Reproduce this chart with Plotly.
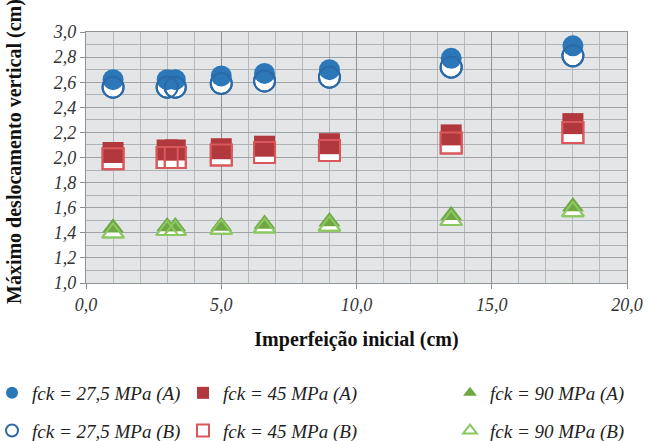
import plotly.graph_objects as go

# Initial imperfection (cm)
imperfeicao = [1.0, 3.0, 3.3, 5.0, 6.6, 9.0, 13.5, 18.0]

# Maximum vertical displacement (cm) per concrete strength and model
fck27_A = [2.62, 2.62, 2.62, 2.65, 2.67, 2.70, 2.79, 2.89]
fck27_B = [2.56, 2.56, 2.56, 2.59, 2.61, 2.64, 2.72, 2.81]
fck45_A = [2.04, 2.06, 2.06, 2.07, 2.09, 2.11, 2.18, 2.27]
fck45_B = [1.99, 2.00, 2.00, 2.02, 2.04, 2.055, 2.115, 2.20]
fck90_A = [1.44, 1.45, 1.45, 1.455, 1.47, 1.49, 1.54, 1.61]
fck90_B = [1.40, 1.42, 1.42, 1.43, 1.44, 1.455, 1.50, 1.57]

nomes_A = ["fck = 27,5 MPa (A)", "fck = 45 MPa (A)", "fck = 90 MPa (A)"]
nomes_B = ["fck = 27,5 MPa (B)", "fck = 45 MPa (B)", "fck = 90 MPa (B)"]

series = [
    # values A, values B, symbol, fill colour, outline colour for B, size, legend
    (fck27_A, fck27_B, "circle", "#2b77b7", "#2b6aa6", 21, "legend"),
    (fck45_A, fck45_B, "square", "#b1393d", "#d9585b", 21, "legend2"),
    (fck90_A, fck90_B, "triangle-up", "#6fa843", "#8cc862", 19, "legend3"),
]

fig = go.Figure()
for i, (ya, yb, sym, cfill, cline, size, leg) in enumerate(series):
    # hollow markers with white interior underneath
    fig.add_trace(go.Scatter(
        x=imperfeicao, y=yb, mode="markers", name=nomes_B[i],
        legend=leg, legendgroup=nomes_B[i], legendrank=2,
        marker=dict(symbol=sym, size=size, color="white",
                    line=dict(color=cline, width=2)),
    ))
    # filled markers
    fig.add_trace(go.Scatter(
        x=imperfeicao, y=ya, mode="markers", name=nomes_A[i],
        legend=leg, legendgroup=nomes_A[i], legendrank=1,
        marker=dict(symbol=sym, size=size, color=cfill,
                    line=dict(color=cfill, width=0)),
    ))
    # hollow outlines repeated on top
    fig.add_trace(go.Scatter(
        x=imperfeicao, y=yb, mode="markers", showlegend=False,
        marker=dict(symbol=sym + "-open", size=size, color=cline,
                    line=dict(color=cline, width=2)),
        hoverinfo="skip",
    ))

tick_font = dict(family="Liberation Serif", size=18, color="#333333", style="italic")
title_font = dict(family="Liberation Serif", size=20, color="#111111", weight="bold")
leg_font = dict(family="Liberation Serif", size=19, color="#222222", style="italic")

# plot area in pixels: x 86..627, y 32..283
PW, PH = 541, 251


def px_x(px):
    return (px - 86) / PW


def px_y(py):
    return (283 - py) / PH


legend_common = dict(
    xref="paper", yref="paper", xanchor="left", yanchor="top",
    y=px_y(374), orientation="v", font=leg_font, bgcolor="rgba(0,0,0,0)",
    itemsizing="constant", itemwidth=30, tracegroupgap=10,
)

fig.update_layout(
    width=650, height=441,
    margin=dict(l=86, r=23, t=32, b=158, autoexpand=False),
    paper_bgcolor="white",
    plot_bgcolor="#e3e5e7",
    separators=",.",
    legend=dict(x=px_x(-8), **legend_common),
    legend2=dict(x=px_x(183), **legend_common),
    legend3=dict(x=px_x(450), **legend_common),
    xaxis=dict(
        range=[0, 20], tickvals=[0, 5, 10, 15, 20], tickformat=".1f",
        tickfont=tick_font, ticks="outside", ticklen=5, tickcolor="#8a8f93",
        showgrid=True, gridcolor="#8e9397", gridwidth=1.3,
        minor=dict(dtick=1, showgrid=True, gridcolor="#b4b9bc", gridwidth=1),
        showline=True, linecolor="#8e9397", linewidth=1.3, mirror=True,
        zeroline=False,
        title=dict(text="Imperfeição inicial (cm)", font=title_font, standoff=18),
    ),
    yaxis=dict(
        range=[1.0, 3.0], dtick=0.2, tickformat=".1f",
        tickfont=tick_font, ticks="outside", ticklen=5, tickcolor="#8a8f93",
        showgrid=True, gridcolor="#9da2a6", gridwidth=1.2,
        minor=dict(dtick=0.1, showgrid=True, gridcolor="#aeb3b7", gridwidth=1),
        showline=True, linecolor="#8e9397", linewidth=1.3, mirror=True,
        zeroline=False,
    ),
    annotations=[dict(
        text="Máximo deslocamento vertical (cm)", textangle=-90,
        xref="paper", yref="paper", x=px_x(14), y=px_y(152),
        xanchor="center", yanchor="middle", showarrow=False, font=title_font,
    )],
)

fig.write_html("out.html")
